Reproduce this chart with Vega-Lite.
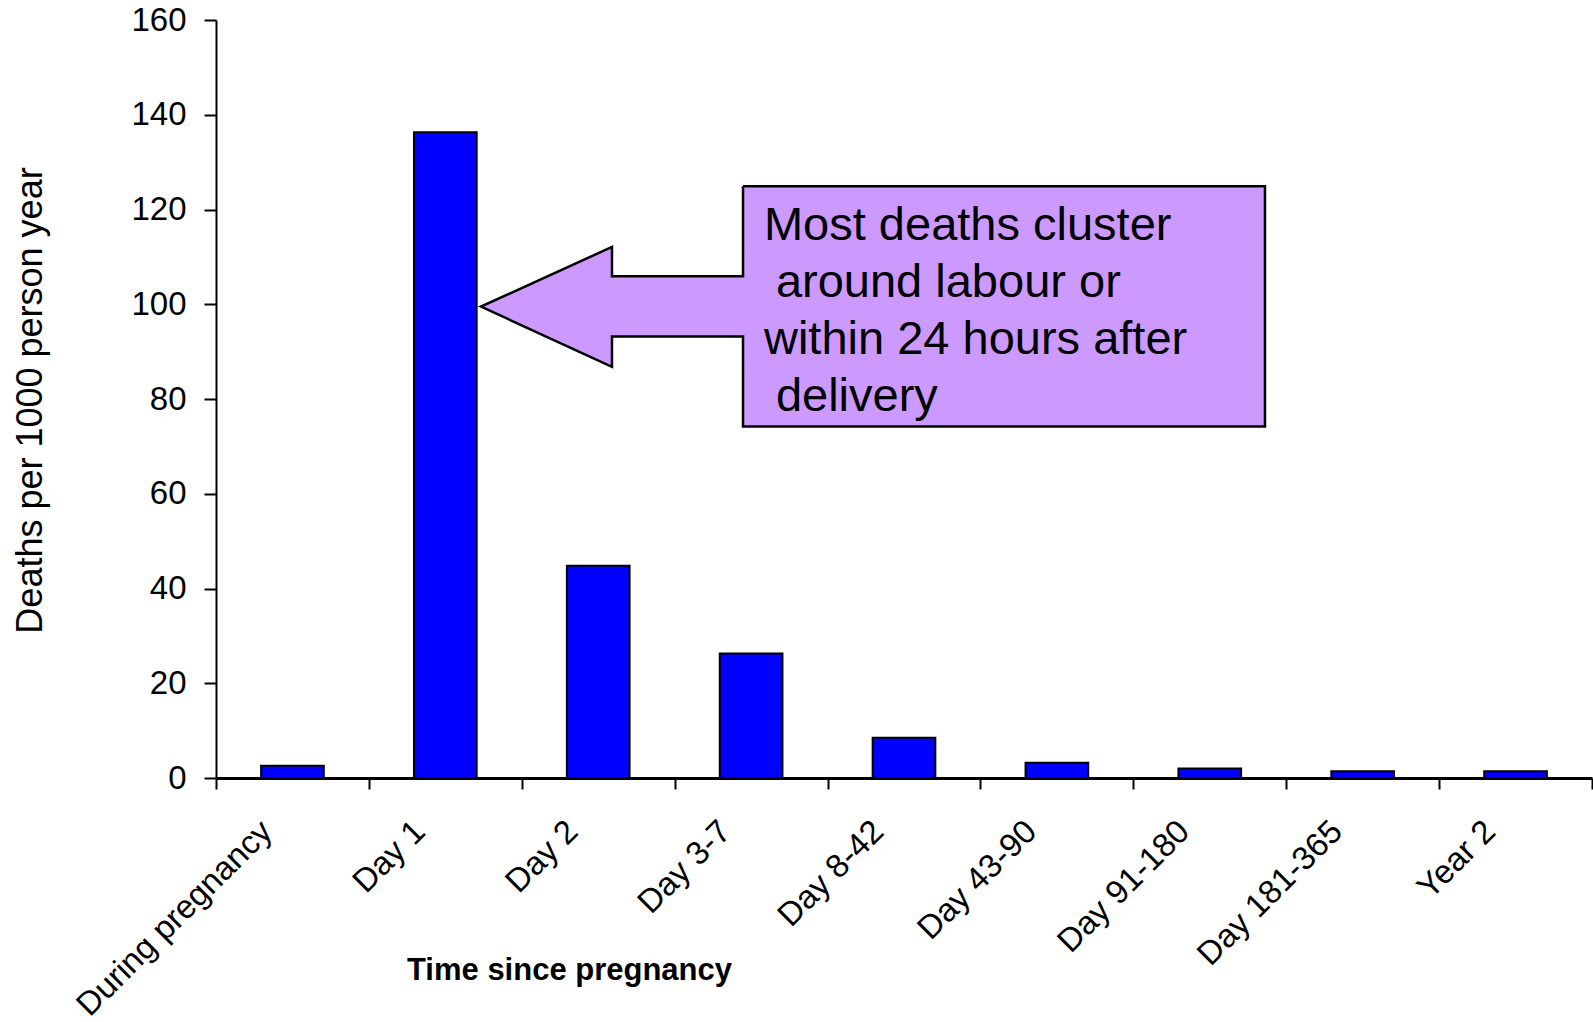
{
  "$schema": "https://vega.github.io/schema/vega-lite/v6.json",
  "autosize": "none",
  "width": 1376,
  "height": 758,
  "padding": {"left": 216, "top": 20, "right": 1, "bottom": 244},
  "background": "white",
  "config": {
    "view": {"stroke": null},
    "font": "Liberation Sans"
  },
  "datasets": {
    "bars": [
      {"period": "During pregnancy", "rate": 2.6},
      {"period": "Day 1", "rate": 136.3},
      {"period": "Day 2", "rate": 44.8},
      {"period": "Day 3-7", "rate": 26.3},
      {"period": "Day 8-42", "rate": 8.5},
      {"period": "Day 43-90", "rate": 3.2},
      {"period": "Day 91-180", "rate": 2.0},
      {"period": "Day 181-365", "rate": 1.4},
      {"period": "Year 2", "rate": 1.4}
    ],
    "callout": [
      {"i": 0, "px": 3.447, "rate": 124.9},
      {"i": 1, "px": 6.861, "rate": 124.9},
      {"i": 2, "px": 6.861, "rate": 74.2},
      {"i": 3, "px": 3.447, "rate": 74.2},
      {"i": 4, "px": 3.447, "rate": 93.2},
      {"i": 5, "px": 2.590, "rate": 93.2},
      {"i": 6, "px": 2.590, "rate": 86.8},
      {"i": 7, "px": 1.733, "rate": 99.5},
      {"i": 8, "px": 2.590, "rate": 112.1},
      {"i": 9, "px": 2.590, "rate": 105.9},
      {"i": 10, "px": 3.447, "rate": 105.9},
      {"i": 11, "px": 3.447, "rate": 124.9}
    ],
    "note": [
      {"px": 3.584, "rate": 113.6, "label": "Most deaths cluster"},
      {"px": 3.662, "rate": 101.6, "label": "around labour or"},
      {"px": 3.584, "rate": 89.5, "label": "within 24 hours after"},
      {"px": 3.662, "rate": 77.5, "label": "delivery"}
    ]
  },
  "layer": [
    {
      "data": {"name": "bars"},
      "mark": {"type": "bar", "color": "#0000FF", "stroke": "black", "strokeWidth": 2, "width": {"band": 0.41}},
      "encoding": {
        "x": {
          "field": "period", "type": "nominal", "sort": null,
          "scale": {"paddingInner": 0, "paddingOuter": 0},
          "axis": {
            "title": "Time since pregnancy",
            "titleFont": "Liberation Sans", "titleFontSize": 31, "titleFontWeight": "bold", "titleColor": "black",
            "titleX": 353, "titleY": 192, "titleAlign": "center", "titleBaseline": "middle", "titleAnchor": null,
            "labelAngle": -45, "labelAlign": "right", "labelBaseline": "middle",
            "labelFont": "Liberation Sans", "labelFontSize": 33, "labelColor": "black",
            "labelOffset": -26, "labelPadding": 37, "labelOverlap": false, "labelLimit": 0,
            "tickBand": "extent", "tickSize": 11, "tickWidth": 2, "tickColor": "black",
            "domainColor": "black", "domainWidth": 3, "grid": false
          }
        },
        "y": {
          "field": "rate", "type": "quantitative",
          "scale": {"domain": [0, 160], "nice": false},
          "axis": {
            "title": "Deaths per 1000 person year",
            "titleFont": "Liberation Sans", "titleFontSize": 36, "titleFontWeight": "normal", "titleColor": "black",
            "titleAngle": -90, "titleX": -186, "titleY": 380, "titleAlign": "center", "titleBaseline": "middle", "titleAnchor": null,
            "values": [0, 20, 40, 60, 80, 100, 120, 140, 160],
            "labelFont": "Liberation Sans", "labelFontSize": 33, "labelColor": "black", "labelPadding": 18,
            "tickSize": 12, "tickWidth": 2, "tickColor": "black",
            "domainColor": "black", "domainWidth": 2, "grid": false
          }
        }
      }
    },
    {
      "data": {"name": "callout"},
      "mark": {"type": "line", "fill": "#CC99FF", "stroke": "black", "strokeWidth": 2.5, "strokeJoin": "miter", "interpolate": "linear", "clip": false},
      "encoding": {
        "x": {"field": "px", "type": "quantitative", "scale": {"domain": [0, 9], "nice": false, "zero": false}, "axis": null},
        "y": {"field": "rate", "type": "quantitative", "title": "Deaths per 1000 person year"},
        "order": {"field": "i", "type": "quantitative"}
      }
    },
    {
      "data": {"name": "note"},
      "mark": {"type": "text", "align": "left", "baseline": "alphabetic", "font": "Liberation Sans", "fontSize": 47, "color": "black"},
      "encoding": {
        "x": {"field": "px", "type": "quantitative", "scale": {"domain": [0, 9], "nice": false, "zero": false}, "axis": null},
        "y": {"field": "rate", "type": "quantitative", "title": "Deaths per 1000 person year"},
        "text": {"field": "label"}
      }
    }
  ],
  "resolve": {"scale": {"x": "independent"}}
}
